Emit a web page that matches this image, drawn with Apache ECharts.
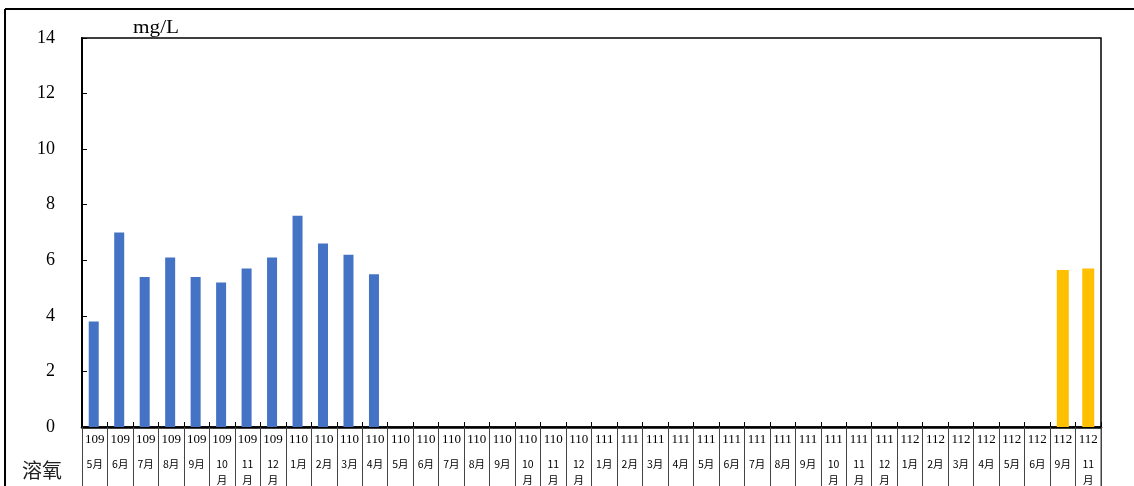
<!DOCTYPE html>
<html>
<head>
<meta charset="utf-8">
<script src="https://cdn.jsdelivr.net/npm/echarts@6/dist/echarts.min.js"></script>
<style>
html,body{margin:0;padding:0;background:#fff;}
#chart{width:1134px;height:486px;}
</style>
</head>
<body>
<div id="chart"></div>
<script>
var years = ['109','109','109','109','109','109','109','109',
  '110','110','110','110','110','110','110','110','110','110','110','110',
  '111','111','111','111','111','111','111','111','111','111','111','111',
  '112','112','112','112','112','112','112','112'];
var months = ['5月','6月','7月','8月','9月','10月','11月','12月',
  '1月','2月','3月','4月','5月','6月','7月','8月','9月','10月','11月','12月',
  '1月','2月','3月','4月','5月','6月','7月','8月','9月','10月','11月','12月',
  '1月','2月','3月','4月','5月','6月','9月','11月'];
var blueValues = [3.8,7.0,5.4,6.1,5.4,5.2,5.7,6.1,7.6,6.6,6.2,5.5,
  null,null,null,null,null,null,null,null,
  null,null,null,null,null,null,null,null,null,null,null,null,
  null,null,null,null,null,null,null,null];
var yellowValues = [null,null,null,null,null,null,null,null,
  null,null,null,null,null,null,null,null,null,null,null,null,
  null,null,null,null,null,null,null,null,null,null,null,null,
  null,null,null,null,null,null,5.65,5.7];
var yTicks = [0,2,4,6,8,10,12,14];
var unitLabel = 'mg/L';
var rowLabel = '溶氧';

var categories = years.map(function(y,i){ return y + '|' + months[i]; });

var chart = echarts.init(document.getElementById('chart'));
var serif = '"Liberation Serif","Times New Roman",serif';
chart.setOption({
  animation: false,
  backgroundColor: '#fff',
  grid: {left: 82, top: 38, right: 33, bottom: 59, show: true, borderColor: '#000', borderWidth: 1.5},
  xAxis: [{
    type: 'category',
    data: categories,
    axisLine: {lineStyle: {color: '#000', width: 2.5}},
    axisTick: {show: true, interval: 0, inside: false, length: 62, alignWithLabel: false, lineStyle: {color: '#444', width: 1}},
    axisLabel: {
      interval: 0,
      margin: 5,
      formatter: function(v){
        var p = v.split('|');
        var m = p[1];
        if (m.length > 2) {
          return '{y|' + p[0] + '}\n{g| }\n{m|' + m.slice(0, m.length-1) + '}\n{m|月}';
        }
        return '{y|' + p[0] + '}\n{g| }\n{m|' + m + '}';
      },
      rich: {
        y: {fontFamily: serif, fontSize: 13, lineHeight: 16, color: '#000'},
        g: {fontSize: 1, lineHeight: 8},
        m: {fontFamily: '"Noto Sans CJK TC","Liberation Serif",serif', fontSize: 10.5, lineHeight: 16, color: '#000'}
      }
    }
  }, {
    type: 'category',
    data: categories,
    position: 'bottom',
    axisLine: {show: false},
    axisTick: {show: true, interval: 0, inside: true, length: 5, alignWithLabel: false, lineStyle: {color: '#000', width: 1}},
    axisLabel: {show: false}
  }],
  yAxis: {
    type: 'value',
    min: 0, max: 14, interval: 2,
    axisLine: {show: true, lineStyle: {color: '#000', width: 2}},
    axisTick: {show: true, inside: true, length: 5, lineStyle: {color: '#000'}},
    splitLine: {show: false},
    axisLabel: {
      margin: 27,
      fontFamily: serif, fontSize: 18, color: '#000',
      formatter: function(v){ return yTicks.indexOf(v) >= 0 ? String(v) : ''; }
    }
  },
  series: [{
    type: 'bar',
    data: blueValues,
    barWidth: 10,
    barGap: '-100%',
    itemStyle: {color: '#4472C4'}
  }, {
    type: 'bar',
    data: yellowValues,
    barWidth: 12,
    barGap: '-100%',
    itemStyle: {color: '#FFC000'}
  }],
  graphic: [
    {type: 'line', shape: {x1: 5, y1: 9, x2: 1134, y2: 9}, style: {stroke: '#000', lineWidth: 2}},
    {type: 'line', shape: {x1: 5, y1: 9, x2: 5, y2: 486}, style: {stroke: '#000', lineWidth: 2}},
    {type: 'line', shape: {x1: 1101, y1: 427, x2: 1101, y2: 486}, style: {stroke: '#444', lineWidth: 1}},
    {type: 'text', x: 133, y: 37, scaleX: 1.18, style: {text: unitLabel, font: '18px "Liberation Serif", serif', fill: '#000', textVerticalAlign: 'bottom', verticalAlign: 'bottom'}},
    {type: 'text', left: 22, top: 460, style: {text: rowLabel, font: '20px "Noto Sans CJK TC", sans-serif', fill: '#222'}}
  ]
});
</script>
</body>
</html>
